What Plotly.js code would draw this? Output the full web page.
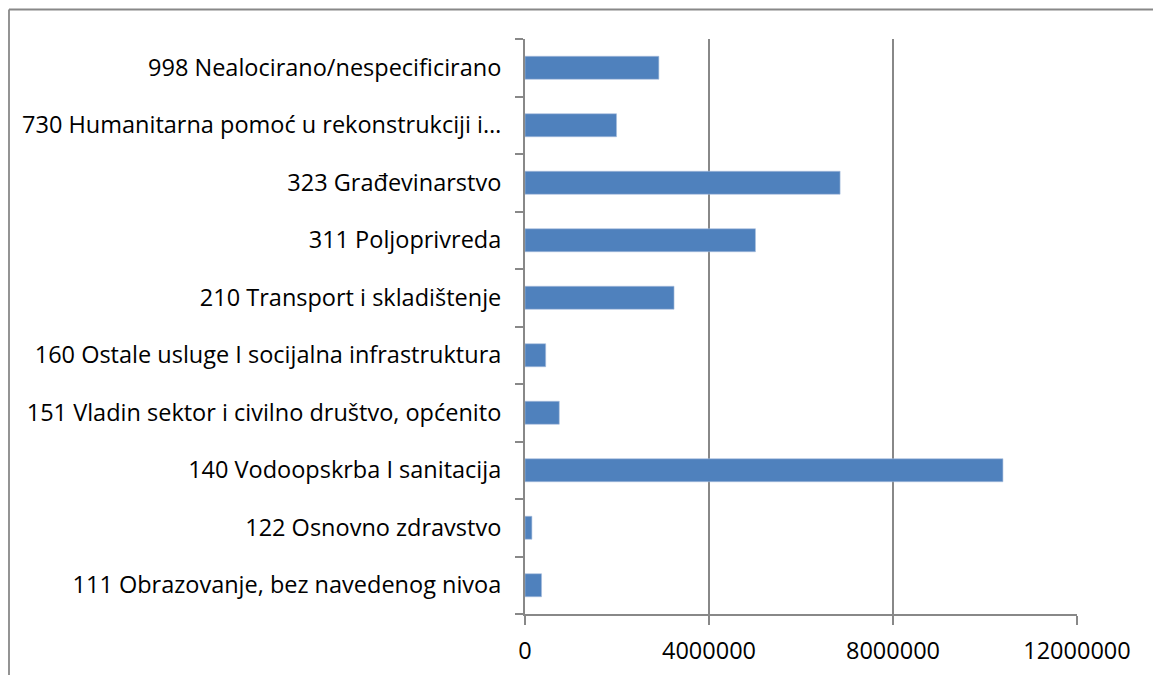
<!DOCTYPE html>
<html>
<head>
<meta charset="utf-8">
<script src="https://cdn.plot.ly/plotly-3.0.1.min.js"></script>
<style>
html,body{margin:0;padding:0;background:#fff;}
#chart{width:1153px;height:675px;}
</style>
</head>
<body>
<div id="chart"></div>
<script>
// Categories listed bottom to top
var categories = [
  "111 Obrazovanje, bez navedenog nivoa",
  "122 Osnovno zdravstvo",
  "140 Vodoopskrba I sanitacija",
  "151 Vladin sektor i civilno društvo, općenito",
  "160 Ostale usluge I socijalna infrastruktura",
  "210 Transport i skladištenje",
  "311 Poljoprivreda",
  "323 Građevinarstvo",
  "730 Humanitarna pomoć u rekonstrukciji i…",
  "998 Nealocirano/nespecificirano"
];
var values = [360000, 150000, 10390000, 745000, 450000, 3240000, 5010000, 6850000, 1990000, 2910000];
var xTicks = [0, 4000000, 8000000, 12000000];
var xTickLabels = ["0", "4000000", "8000000", "12000000"];

var grey = "#888888";
var fontFam = "'Open Sans', sans-serif";

var trace = {
  type: "bar",
  orientation: "h",
  y: categories,
  x: values,
  marker: {color: "#4F81BD", line: {color: "#A9C0DE", width: 0.6}},
  hoverinfo: "x+y"
};

var L = 525, R = 76, T = 39, B = 61, W = 1153, H = 675;
var pw = W - L - R, ph = H - T - B;

var layout = {
  width: W, height: H,
  margin: {l: L, r: R, t: T, b: B, pad: 0},
  paper_bgcolor: "#ffffff",
  plot_bgcolor: "#ffffff",
  showlegend: false,
  bargap: 0.6,
  font: {family: fontFam, size: 23.5, color: "#000000"},
  xaxis: {
    range: [0, 12000000],
    tickvals: xTicks,
    ticktext: xTickLabels,
    showgrid: true,
    gridcolor: grey,
    gridwidth: 1.6,
    zeroline: false,
    showline: true,
    linecolor: grey,
    linewidth: 2,
    ticks: "outside",
    ticklen: 9,
    tickwidth: 2,
    tickcolor: grey,
    ticklabelstandoff: 6,
    tickfont: {family: fontFam, size: 23.5, color: "#000"},
    fixedrange: true
  },
  yaxis: {
    type: "category",
    categoryorder: "array",
    categoryarray: categories,
    range: [-0.5, categories.length - 0.5],
    showgrid: false,
    zeroline: false,
    showline: true,
    linecolor: grey,
    linewidth: 2,
    ticks: "outside",
    tickson: "boundaries",
    ticklen: 8,
    tickwidth: 2,
    tickcolor: grey,
    ticklabelstandoff: 17,
    tickfont: {family: fontFam, size: 23.5, color: "#000"},
    fixedrange: true
  },
  shapes: [
    {
      type: "line", xref: "paper", yref: "paper",
      x0: (9 - L) / pw, x1: (W + 10 - L) / pw,
      y0: (H - B - 9.5) / ph, y1: (H - B - 9.5) / ph,
      line: {color: grey, width: 1.8}
    },
    {
      type: "line", xref: "paper", yref: "paper",
      x0: (9 - L) / pw, x1: (9 - L) / pw,
      y0: (H - B - 9.5) / ph, y1: (H - B - H - 10) / ph,
      line: {color: grey, width: 1.8}
    }
  ]
};

Plotly.newPlot("chart", [trace], layout, {displayModeBar: false, staticPlot: true});
</script>
</body>
</html>
